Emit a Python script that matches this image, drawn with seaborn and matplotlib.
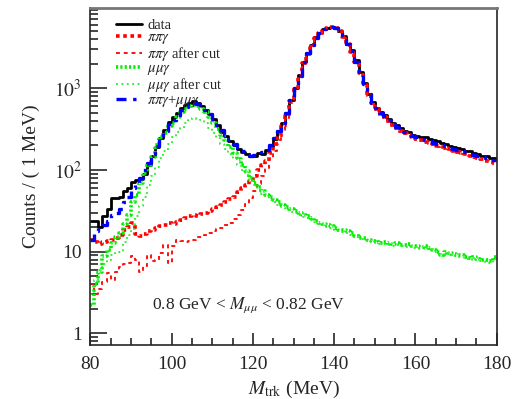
import numpy as np
import pandas as pd
import seaborn as sns
import matplotlib.pyplot as plt
from matplotlib.ticker import MultipleLocator, LogLocator, NullFormatter

# bin edges: 1 MeV bins from 80 to 180 MeV
edges = np.arange(80, 181, 1)

data = [24, 24, 20, 27, 33, 45, 45, 47, 55, 60,
        72, 76, 78, 88, 115, 150, 190, 245, 305, 385,
        440, 500, 575, 620, 650, 690, 660, 600, 540, 480,
        420, 350, 290, 260, 225, 200, 180, 165, 155, 148,
        150, 160, 155, 175, 195, 240, 300, 380, 500, 720,
        1000, 1450, 2100, 2700, 3400, 4200, 4800, 5300, 5500, 5600,
        5450, 5000, 4300, 3500, 2900, 2200, 1600, 1150, 850, 680,
        580, 510, 470, 420, 380, 350, 325, 300, 290, 270,
        260, 250, 250, 240, 230, 225, 215, 205, 198, 190,
        185, 180, 172, 168, 160, 155, 150, 148, 140, 140]

pipig = [14, 13, 12.5, 13, 13.4, 14, 14.8, 16, 18.6, 20,
         22.6, 16.5, 15.4, 16.5, 17.7, 18.5, 19.6, 20.3, 21, 22.6,
         21.5, 23, 24.6, 26, 27, 28, 27, 29, 30, 31,
         33, 35, 37.5, 40, 44, 47, 53, 60, 66, 74,
         85, 100, 115, 130, 160, 205, 260, 340, 460, 690,
         980, 1400, 2050, 2650, 3350, 4150, 4750, 5250, 5500, 5550,
         5400, 4950, 4250, 3450, 2800, 2100, 1550, 1100, 830, 650,
         550, 480, 440, 395, 355, 325, 300, 280, 265, 250,
         240, 230, 222, 215, 205, 198, 192, 185, 178, 172,
         165, 160, 155, 150, 145, 140, 135, 130, 126, 122]

pipig_cut = [4, 3, 3.5, 4.3, 5.5, 4.5, 5.7, 6.5, 7, 7.3,
             8.8, 8, 5.7, 6.6, 9.2, 7.6, 8, 9.6, 12, 7.3,
             11.6, 14, 13.4, 13, 13.5, 14, 15, 15.3, 16, 17,
             18, 19, 19.6, 21, 22.6, 25, 28, 32, 38, 45,
             55, 68, 85, 105, 135, 170, 230, 310, 430, 650,
             920, 1330, 1950, 2550, 3250, 4050, 4650, 5150, 5400, 5450,
             5300, 4850, 4150, 3380, 2740, 2050, 1510, 1070, 810, 635,
             535, 468, 428, 385, 346, 317, 292, 273, 258, 244,
             234, 224, 216, 210, 200, 193, 187, 180, 174, 168,
             161, 156, 151, 146, 141, 137, 132, 127, 123, 119]

mumug = [2.2, 4, 5.7, 8.8, 10.5, 12.9, 15, 17, 22, 28,
         40, 50, 70, 92, 115, 145, 200, 250, 285, 340,
         380, 440, 510, 560, 600, 620, 600, 560, 510, 450,
         380, 320, 270, 230, 190, 160, 135, 115, 98, 80,
         70, 62, 55, 50, 46, 43, 40, 37, 35, 33,
         31, 30, 28, 27, 26, 24, 22.5, 22, 21, 20.5,
         19.5, 18.6, 18.2, 17.7, 17, 15.5, 14.7, 14.5, 14, 13.5,
         13.2, 12.8, 13, 12.6, 12.4, 12.8, 12.2, 12, 12.3, 11.8,
         11.6, 11.4, 11.8, 11.1, 10.5, 9.8, 9.2, 9.8, 9.6, 9.4,
         9.2, 9.0, 8.6, 8.4, 8.6, 8.2, 8, 7.8, 7.6, 8.6]

mumug_cut = [3, 4.5, 6, 7, 8, 9, 9.5, 10, 13, 16,
             19, 27, 36, 47, 65, 85, 110, 140, 170, 210,
             250, 290, 330, 370, 410, 430, 425, 405, 370, 330,
             285, 245, 210, 180, 155, 135, 115, 100, 86, 75,
             65, 57, 51, 46, 43, 40, 37, 35, 32, 30.5,
             29.5, 28, 26.5, 25.5, 24.5, 23, 21.5, 21, 20, 19.5,
             18.5, 18, 17.2, 16.8, 16, 15, 14.2, 13.8, 13.4, 13,
             12.6, 12.3, 12.4, 12, 11.8, 12.1, 11.6, 11.4, 11.7, 11.2,
             11, 10.8, 11.2, 10.5, 10, 9.4, 8.8, 9.3, 9.1, 8.9,
             8.7, 8.5, 8.2, 8, 8.2, 7.8, 7.6, 7.4, 7.2, 8.2]

total = [14, 18, 19.6, 21, 24, 28, 30, 33, 40, 47,
         60, 66, 80, 100, 120, 155, 195, 248, 300, 365,
         410, 470, 540, 590, 630, 655, 640, 595, 540, 480,
         415, 355, 305, 265, 230, 205, 185, 170, 158, 150,
         152, 158, 165, 175, 200, 245, 300, 375, 495, 720,
         1000, 1430, 2080, 2680, 3380, 4170, 4770, 5270, 5520, 5570,
         5420, 4970, 4270, 3470, 2820, 2115, 1565, 1115, 845, 665,
         565, 495, 455, 410, 368, 338, 312, 292, 277, 262,
         252, 242, 234, 226, 216, 208, 201, 195, 188, 181,
         174, 169, 164, 158, 154, 148, 143, 138, 134, 131]

labels = ["data", r"$\pi\pi\gamma$", r"$\pi\pi\gamma$ after cut", r"$\mu\mu\gamma$",
          r"$\mu\mu\gamma$ after cut", r"$\pi\pi\gamma$+$\mu\mu\gamma$"]
ytick_vals = [1, 10, 100, 1000]
ytick_labels = ["1", "10", r"$10^{2}$", r"$10^{3}$"]

sns.set_style("ticks")
plt.rcParams['font.family'] = ['Liberation Serif', 'DejaVu Serif']
plt.rcParams['mathtext.fontset'] = 'stix'

fig = plt.figure(figsize=(5.16, 3.99), dpi=100)
ax = fig.add_axes([90.3/516, 54/399, 406.4/516, 336.7/399])

styles = [
    (data, "black", "-", 2.0),
    (pipig, "#ff0000", (0, (1, 1)), 2.6),
    (pipig_cut, "#ff1010", (0, (2, 2)), 1.4),
    (mumug, "#00ee00", (0, (0.6, 0.6)), 2.6),
    (mumug_cut, "#22ee22", (0, (1, 2)), 1.3),
    (total, "#0000ff", (0, (3, 2, 1, 2)), 2.4),
]

handles = []
for (vals, col, ls, lw), lab in zip(styles, labels):
    y = np.append(vals, vals[-1])
    sns.lineplot(x=edges, y=y, drawstyle="steps-post", color=col, linestyle=ls,
                 linewidth=lw, errorbar=None, ax=ax)
    handles.append(ax.lines[-1])

ax.set_yscale("log")
ax.set_xlim(80, 180)
ax.set_ylim(0.72, 9500)
ax.set_yticks(ytick_vals, ytick_labels)
ax.yaxis.set_minor_locator(LogLocator(base=10, subs=np.arange(2, 10)))
ax.yaxis.set_minor_formatter(NullFormatter())
ax.xaxis.set_major_locator(MultipleLocator(20))
ax.xaxis.set_minor_locator(MultipleLocator(5))

ax.tick_params(axis="both", which="both", direction="in", labelsize=14, width=1.2)
ax.tick_params(axis="y", which="major", length=12, pad=6)
ax.tick_params(axis="y", which="minor", length=6)
ax.tick_params(axis="x", which="major", length=9, pad=8)
ax.tick_params(axis="x", which="minor", length=5)

for s in ["left", "bottom", "right"]:
    ax.spines[s].set_linewidth(1.2)
ax.spines["top"].set_color("#777777")
ax.spines["top"].set_linewidth(2)

ax.set_xlabel(r"$M_{\rm trk}$ (MeV)", fontsize=14, labelpad=4)
ax.set_ylabel("Counts / ( 1 MeV)", fontsize=14, labelpad=10)

ax.legend(handles=handles, labels=labels, frameon=False, loc="upper left",
          bbox_to_anchor=(0.063, 0.968), borderaxespad=0, borderpad=0,
          handlelength=1.8, handletextpad=0.35, labelspacing=-0.08, fontsize=10.5)

ax.text(0.152, 0.119, r"0.8 GeV < $M_{\mu\mu}$ < 0.82 GeV", transform=ax.transAxes,
        fontsize=12.5, va="center", ha="left")

fig.savefig("out.png", dpi=100)
